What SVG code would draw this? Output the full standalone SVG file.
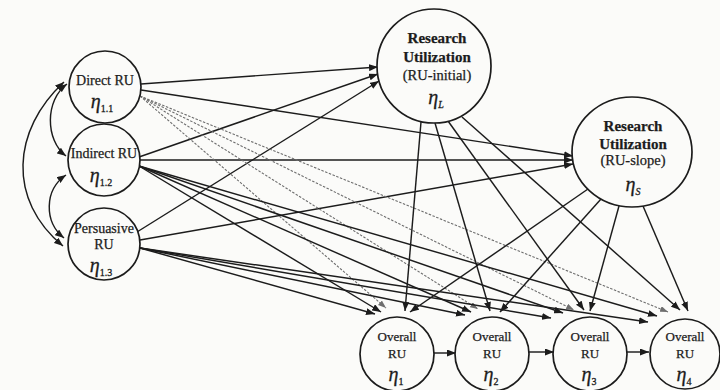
<svg xmlns="http://www.w3.org/2000/svg" width="720" height="390" viewBox="0 0 720 390">
  <style>
    .node { fill: #fbfbf9; stroke: #1c1c1c; stroke-width: 1.7; }
    .lbl { font-family: "Liberation Serif", "Times New Roman", serif; fill: #1c1c1c; stroke: #1c1c1c; stroke-width: 0.25; text-anchor: middle; }
    .sm { font-size: 14px; }
    .ov { font-size: 13px; }
    .big { font-size: 15px; font-weight: bold; }
    .paren { font-size: 14.5px; }
    .eta { font-family: "Liberation Serif", "Times New Roman", serif; font-style: italic; fill: #1c1c1c; stroke: #1c1c1c; stroke-width: 0.3; text-anchor: middle; font-size: 20px; }
    .sub { font-size: 10px; font-style: normal; }
    .subi { font-size: 10px; font-style: italic; }
    .edge { fill: none; stroke: #1c1c1c; stroke-width: 1.45; marker-end: url(#ah); }
    .faint { fill: none; stroke: #6e6e6e; stroke-width: 1.1; stroke-dasharray: 2.5 1.5; marker-end: url(#ahg); }
    .corr { fill: none; stroke: #1c1c1c; stroke-width: 1.45; marker-start: url(#ah); marker-end: url(#ah); }
  </style>
  <defs>
    <marker id="ah" markerUnits="userSpaceOnUse" markerWidth="9" markerHeight="7" refX="9" refY="3.5" orient="auto-start-reverse">
      <path d="M0,0 L9,3.5 L0,7 z" fill="#1c1c1c"/>
    </marker>
    <marker id="ahg" markerUnits="userSpaceOnUse" markerWidth="8" markerHeight="6" refX="8" refY="3" orient="auto">
      <path d="M0,0 L8,3 L0,6 z" fill="#6e6e6e"/>
    </marker>
  </defs>

  <rect width="720" height="390" fill="#fbfbf9"/>

  <g id="connectors">
    <!-- correlations among the three RU types -->
    <path class="corr" d="M67,84 C45,100 45,140 66,156"/>
    <path class="corr" d="M66,175 C44,190 44,222 64,238"/>
    <path class="corr" d="M64,82 C12,130 7,200 63,246"/>

    <!-- RU types to initial level -->
    <line class="edge" x1="141" y1="84" x2="378" y2="67"/>
    <line class="edge" x1="139" y1="157" x2="378" y2="74"/>
    <line class="edge" x1="137" y1="232" x2="379" y2="81"/>

    <!-- RU types to slope -->
    <line class="edge" x1="141" y1="90" x2="573" y2="156"/>
    <line class="edge" x1="140" y1="160" x2="573" y2="160"/>
    <line class="edge" x1="140" y1="240" x2="573" y2="164"/>

    <!-- Direct RU to overall RU -->
    <line class="faint" x1="140" y1="96" x2="386" y2="308"/>
    <line class="faint" x1="140" y1="96" x2="478" y2="309"/>
    <line class="faint" x1="140" y1="96" x2="574" y2="310"/>
    <line class="faint" x1="140" y1="96" x2="668" y2="312"/>

    <!-- Indirect RU to overall RU -->
    <line class="edge" x1="139" y1="166" x2="381" y2="312"/>
    <line class="edge" x1="139" y1="166" x2="471" y2="312"/>
    <line class="edge" x1="139" y1="166" x2="563" y2="313"/>
    <line class="edge" x1="139" y1="166" x2="657" y2="316"/>

    <!-- Persuasive RU to overall RU -->
    <line class="edge" x1="140" y1="248" x2="375" y2="314"/>
    <line class="edge" x1="140" y1="248" x2="465" y2="315"/>
    <line class="edge" x1="140" y1="248" x2="551" y2="318"/>
    <line class="edge" x1="140" y1="248" x2="648" y2="322"/>

    <!-- initial level to overall RU -->
    <line class="edge" x1="421" y1="122" x2="405" y2="311"/>
    <line class="edge" x1="435" y1="123" x2="490" y2="311"/>
    <line class="edge" x1="448" y1="121" x2="584" y2="310"/>
    <line class="edge" x1="462" y1="117" x2="680" y2="310"/>

    <!-- slope to overall RU -->
    <line class="edge" x1="588" y1="189" x2="410" y2="312"/>
    <line class="edge" x1="601" y1="199" x2="500" y2="312"/>
    <line class="edge" x1="619" y1="206" x2="590" y2="311"/>
    <line class="edge" x1="643" y1="206" x2="688" y2="311"/>

    <!-- overall RU chain -->
    <line class="edge" x1="434" y1="353" x2="456" y2="353"/>
    <line class="edge" x1="529" y1="352" x2="554" y2="352"/>
    <line class="edge" x1="627" y1="352" x2="649" y2="352"/>
  </g>

  <g id="direct">
    <circle class="node" cx="105" cy="87" r="36"/>
    <text class="lbl sm" x="105" y="85">Direct RU</text>
    <text class="eta" x="102" y="108">η<tspan class="sub" dy="4">1.1</tspan></text>
  </g>

  <g id="indirect">
    <circle class="node" cx="104" cy="160" r="36"/>
    <text class="lbl sm" x="104" y="158">Indirect RU</text>
    <text class="eta" x="101" y="182">η<tspan class="sub" dy="4">1.2</tspan></text>
  </g>

  <g id="persuasive">
    <circle class="node" cx="104" cy="244" r="36"/>
    <text class="lbl sm" x="104" y="233">Persuasive</text>
    <text class="lbl sm" x="104" y="249">RU</text>
    <text class="eta" x="101" y="272">η<tspan class="sub" dy="4">1.3</tspan></text>
  </g>

  <g id="ru-initial">
    <circle class="node" cx="434" cy="66" r="57"/>
    <text class="lbl big" x="437" y="43">Research</text>
    <text class="lbl big" x="437" y="62">Utilization</text>
    <text class="lbl paren" x="437" y="80">(RU-initial)</text>
    <text class="eta" x="436" y="104">η<tspan class="subi" dy="4">L</tspan></text>
  </g>

  <g id="ru-slope">
    <ellipse class="node" cx="632" cy="152" rx="60" ry="55"/>
    <text class="lbl big" x="633" y="131">Research</text>
    <text class="lbl big" x="633" y="149">Utilization</text>
    <text class="lbl paren" x="633" y="165">(RU-slope)</text>
    <text class="eta" x="633" y="191">η<tspan class="subi" dy="4">S</tspan></text>
  </g>

  <g id="overall1">
    <circle class="node" cx="397" cy="354" r="37"/>
    <text class="lbl ov" x="397" y="341">Overall</text>
    <text class="lbl ov" x="397" y="358">RU</text>
    <text class="eta" x="396" y="381">η<tspan class="sub" dy="4">1</tspan></text>
  </g>

  <g id="overall2">
    <circle class="node" cx="492" cy="354" r="37"/>
    <text class="lbl ov" x="492" y="341">Overall</text>
    <text class="lbl ov" x="492" y="358">RU</text>
    <text class="eta" x="491" y="381">η<tspan class="sub" dy="4">2</tspan></text>
  </g>

  <g id="overall3">
    <circle class="node" cx="590" cy="354" r="37"/>
    <text class="lbl ov" x="590" y="341">Overall</text>
    <text class="lbl ov" x="590" y="358">RU</text>
    <text class="eta" x="589" y="381">η<tspan class="sub" dy="4">3</tspan></text>
  </g>

  <g id="overall4">
    <circle class="node" cx="685" cy="354" r="35"/>
    <text class="lbl ov" x="685" y="341">Overall</text>
    <text class="lbl ov" x="685" y="358">RU</text>
    <text class="eta" x="684" y="381">η<tspan class="sub" dy="4">4</tspan></text>
  </g>
</svg>
